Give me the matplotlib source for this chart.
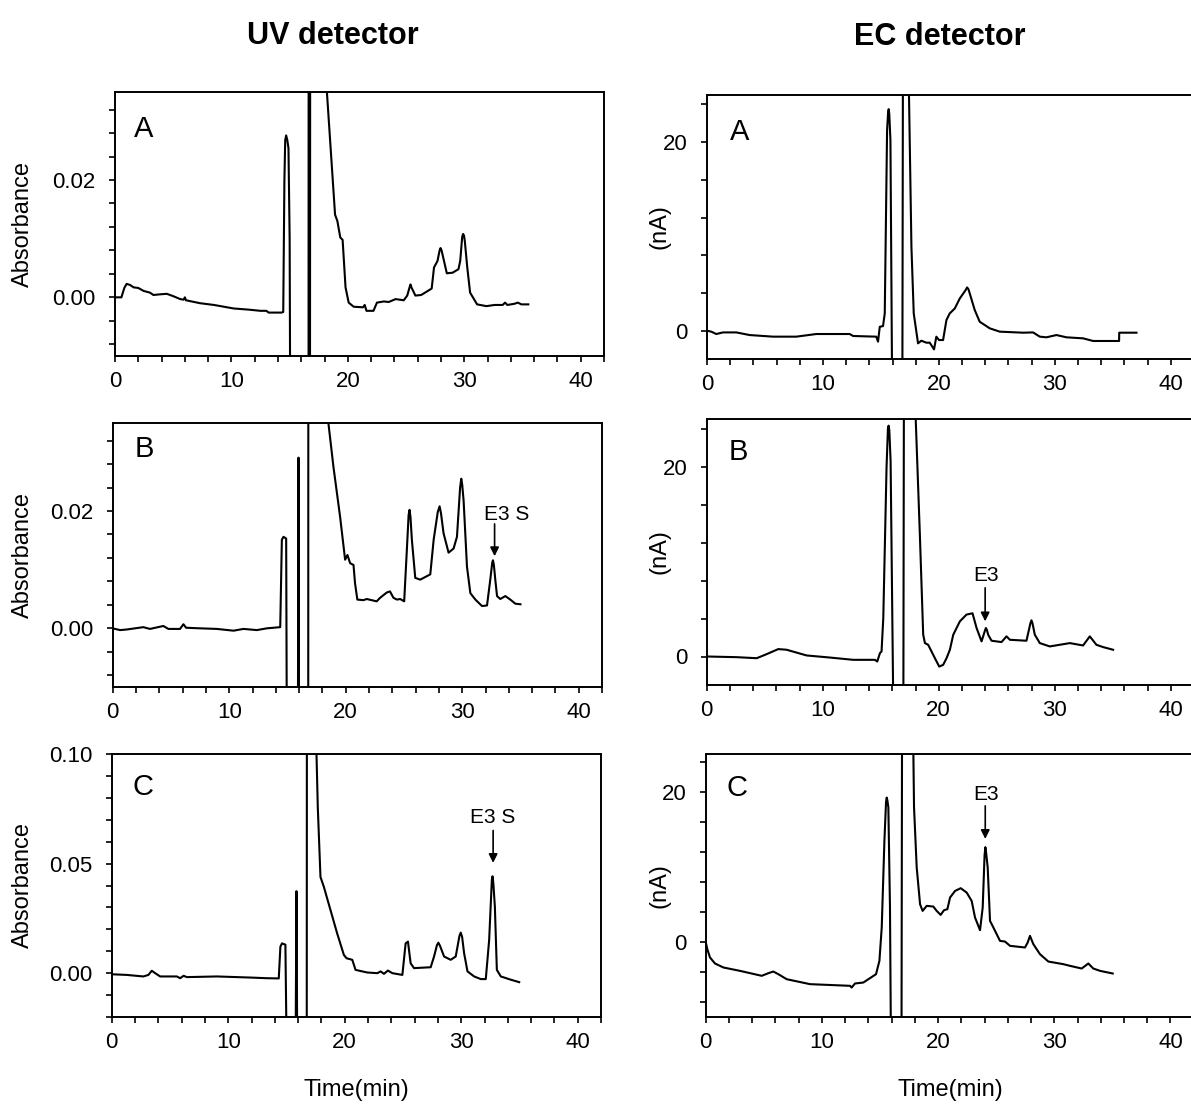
import matplotlib
matplotlib.use("Agg")
import matplotlib.pyplot as plt
from matplotlib.ticker import MultipleLocator, FixedLocator, FixedFormatter

plt.rcParams['font.family'] = ['Liberation Sans', 'DejaVu Sans']

# ---------------- data (time in min, signal) ----------------
uv_a_t = [0, 0.55, 0.8, 1.0, 1.3, 1.6, 2.0, 2.45, 3.0, 3.3, 3.8, 4.45, 5.0, 5.6, 5.9, 6.0, 6.1, 7.3,
          8.5, 10.2, 11.5, 12.5, 13.0, 13.2, 14.3, 14.45, 14.55, 14.62, 14.7, 14.8, 14.9, 15.0,
          15.1, 16.62, 16.65, 16.74, 16.8, 18.0, 18.2, 18.9, 19.1, 19.35, 19.55, 19.8, 20.07, 20.5,
          21.3, 21.45, 21.6, 22.2, 22.5, 23.1, 23.5, 24.1, 24.8, 25.1, 25.3, 25.38, 25.46, 25.8,
          26.3, 27.2, 27.4, 27.7, 27.88, 27.96, 28.05, 28.5, 29.0, 29.5, 29.65, 29.82, 29.9, 29.98,
          30.05, 30.25, 30.5, 31.1, 31.9, 32.6, 33.3, 33.5, 33.7, 34.3, 34.6, 34.9, 35.5]
uv_a_v = [0.0, 0.0, 0.0016, 0.0023, 0.0021, 0.0017, 0.0016, 0.0011, 0.0008, 0.0004, 0.0005, 0.0006,
          0.0002, -0.0003, -0.0004, 0.0000, -0.0005, -0.0010, -0.0013, -0.0019, -0.0021, -0.0023,
          -0.0023, -0.0026, -0.0026, -0.0025, 0.020, 0.0268, 0.0276, 0.0268, 0.0254, 0.010, -0.05,
          -0.05, 0.2, -0.05, 0.2, 0.2, 0.035, 0.0141, 0.0130, 0.0102, 0.0098, 0.0017, -0.0009,
          -0.0016, -0.0017, -0.0013, -0.0023, -0.0023, -0.0009, -0.0007, -0.0008, -0.0003, -0.0005,
          0.0003, 0.0017, 0.0022, 0.0017, 0.0003, 0.0004, 0.0015, 0.0051, 0.0062, 0.0080, 0.0084,
          0.0080, 0.0041, 0.0042, 0.0048, 0.0062, 0.0103, 0.0108, 0.0105, 0.0095, 0.0052, 0.0008,
          -0.0012, -0.0015, -0.0013, -0.0013, -0.0009, -0.0013, -0.0011, -0.0009, -0.0012, -0.0012]

uv_b_t = [0, 0.63, 1.2, 2.63, 3.2, 4.35, 4.78, 5.78, 6.07, 6.3, 7.5, 8.94, 10.37, 11.23, 12.38,
          13.23, 14.38, 14.52, 14.66, 14.89, 15.0, 15.86, 15.95, 16.03, 16.78, 16.81, 18.3, 18.52,
          18.95, 19.52, 19.95, 20.15, 20.38, 20.67, 20.8, 21.0, 21.53, 21.8, 22.66, 22.95, 23.52,
          23.8, 24.1, 24.4, 24.68, 25.02, 25.25, 25.4, 25.48, 25.56, 25.68, 25.97, 26.4, 27.26,
          27.55, 27.9, 28.06, 28.18, 28.4, 28.83, 29.26, 29.55, 29.82, 29.92, 30.0, 30.12, 30.41,
          30.7, 31.13, 31.7, 32.13, 32.41, 32.58, 32.64, 32.72, 32.84, 32.99, 33.27, 33.7, 34.13,
          34.56, 35.0]
uv_b_v = [0.0, -0.0003, -0.0002, 0.0002, -0.0001, 0.0004, -0.0001, -0.0001, 0.0007, 0.0001, 0.0,
          -0.0001, -0.0004, -0.0001, -0.0003, 0.0, 0.0002, 0.0151, 0.0156, 0.0153, -0.05, -0.05,
          0.0291, -0.05, -0.05, 0.2, 0.2, 0.0349, 0.0275, 0.0190, 0.0117, 0.0125, 0.0111, 0.0108,
          0.0077, 0.0049, 0.0048, 0.0050, 0.0046, 0.0052, 0.0061, 0.0063, 0.0052, 0.0049, 0.0050,
          0.0046, 0.0134, 0.0193, 0.0202, 0.0190, 0.0151, 0.0086, 0.0083, 0.0092, 0.0151, 0.0198,
          0.0208, 0.0196, 0.0162, 0.0129, 0.0136, 0.0156, 0.0240, 0.0255, 0.0245, 0.0218, 0.0105,
          0.0060, 0.0049, 0.0038, 0.0039, 0.0083, 0.0112, 0.0116, 0.0108, 0.0083, 0.0055, 0.0050,
          0.0055, 0.0049, 0.0042, 0.0041]

uv_c_t = [0, 1.29, 2.72, 3.15, 3.44, 3.73, 4.16, 5.59, 5.88, 6.17, 6.45, 9.03, 11.9, 13.33, 14.34,
          14.48, 14.62, 14.91, 15.05, 15.77, 15.86, 15.94, 16.74, 16.77, 17.5, 17.58, 17.69, 17.92,
          18.21, 18.78, 19.35, 19.93, 20.16, 20.65, 20.93, 21.94, 22.8, 23.08, 23.37, 23.71, 24.09,
          24.95, 25.23, 25.43, 25.66, 25.95, 27.38, 27.67, 27.92, 28.04, 28.18, 28.53, 29.1, 29.53,
          29.85, 29.96, 30.08, 30.25, 30.54, 31.11, 31.68, 32.11, 32.4, 32.63, 32.69, 32.76, 32.89,
          33.06, 33.4, 34.27, 34.98]
uv_c_v = [-0.0005, -0.0008, -0.0015, -0.0008, 0.0011, 0.0, -0.0015, -0.0015, -0.0023, -0.0012,
          -0.0018, -0.0015, -0.0020, -0.0023, -0.0024, 0.0121, 0.0136, 0.0130, -0.05, -0.05,
          0.0374, -0.05, -0.05, 0.3, 0.3, 0.0997, 0.0758, 0.0439, 0.0394, 0.0288, 0.0182, 0.0083,
          0.0068, 0.0061, 0.0015, 0.0003, 0.0, 0.0008, -0.0003, 0.0012, 0.0, -0.0008, 0.0136,
          0.0144, 0.0045, 0.0023, 0.0027, 0.0076, 0.0128, 0.0139, 0.0125, 0.0076, 0.0061, 0.0076,
          0.0170, 0.0185, 0.0165, 0.0091, 0.0008, -0.0015, -0.0027, -0.0027, 0.0152, 0.0425,
          0.0442, 0.0410, 0.0303, 0.0015, -0.0015, -0.0030, -0.0041]

ec_a_t = [0, 0.37, 0.8, 1.38, 2.53, 3.68, 5.69, 7.7, 9.43, 12.3, 12.6, 14.6, 14.75, 14.9, 15.18,
          15.33, 15.53, 15.62, 15.67, 15.72, 15.82, 15.96, 16.85, 16.9, 17.35, 17.42, 17.63, 17.83,
          18.2, 18.49, 18.92, 19.21, 19.58, 19.78, 20.01, 20.36, 20.65, 20.93, 21.37, 21.8, 22.3,
          22.43, 22.55, 22.66, 23.09, 23.52, 24.39, 25.25, 27.26, 28.12, 28.7, 29.27, 30.14, 31.0,
          32.44, 33.3, 35.54, 35.55, 37.04]
ec_a_v = [0, -0.1, -0.35, -0.18, -0.18, -0.46, -0.63, -0.63, -0.35, -0.35, -0.56, -0.63, -1.16,
          0.42, 0.49, 1.83, 21.2, 23.2, 23.5, 23.0, 20.2, -5, -5, 30, 30, 25, 8.9, 1.83, -1.34,
          -1.06, -1.27, -1.27, -1.98, -0.63, -0.99, -0.99, 1.13, 1.83, 2.36, 3.42, 4.3, 4.59, 4.4,
          3.95, 2.19, 0.95, 0.25, -0.1, -0.21, -0.18, -0.63, -0.7, -0.46, -0.7, -0.81, -1.09, -1.09,
          -0.21, -0.21]

ec_b_t = [0, 2.58, 4.31, 5.17, 6.17, 6.89, 8.61, 10.62, 12.63, 14.5, 14.7, 14.93, 15.07, 15.22,
          15.5, 15.62, 15.68, 15.74, 15.85, 16.08, 16.95, 17.0, 17.9, 18.0, 18.37, 18.66, 18.81,
          19.09, 19.67, 20.04, 20.38, 20.67, 20.96, 21.25, 21.82, 22.39, 22.91, 23.26, 23.69, 23.95,
          24.06, 24.15, 24.26, 24.55, 25.41, 25.84, 26.13, 27.56, 27.9, 27.99, 28.08, 28.28, 28.71,
          29.57, 31.3, 32.44, 33.02, 33.59, 34.17, 35.03]
ec_b_v = [0, -0.07, -0.18, 0.25, 0.78, 0.71, 0.11, -0.11, -0.35, -0.35, -0.53, 0.35, 0.53, 4.06,
          19.9, 24.0, 24.3, 23.8, 20.6, -5, -5, 30, 30, 25.5, 12.9, 2.29, 1.41, 1.23, -0.18, -1.06,
          -0.88, -0.18, 0.71, 2.29, 3.7, 4.41, 4.55, 3.0, 1.59, 2.6, 3.0, 2.8, 2.29, 1.66, 1.52,
          2.12, 1.76, 1.66, 3.5, 3.81, 3.5, 2.29, 1.41, 1.06, 1.41, 1.16, 2.12, 1.23, 0.99, 0.71]

ec_c_t = [0, 0.14, 0.37, 0.8, 1.52, 2.95, 4.82, 5.39, 5.82, 6.25, 6.97, 8.98, 12.42, 12.56, 12.85,
          13.57, 14.14, 14.66, 14.95, 15.15, 15.38, 15.52, 15.58, 15.64, 15.72, 15.86, 15.95, 16.85,
          16.9, 17.8, 17.87, 17.93, 18.16, 18.45, 18.67, 19.02, 19.59, 19.88, 20.22, 20.51, 20.8,
          21.03, 21.46, 21.95, 22.46, 22.89, 23.18, 23.61, 23.84, 24.0, 24.07, 24.14, 24.27, 24.47,
          24.76, 25.33, 25.76, 26.19, 27.48, 27.71, 27.91, 28.2, 28.77, 29.49, 30.78, 31.35, 32.36,
          32.93, 33.36, 33.94, 35.03]
ec_c_v = [0, -0.98, -2.08, -2.88, -3.41, -3.86, -4.52, -4.17, -3.95, -4.3, -4.97, -5.63, -5.85,
          -6.08, -5.54, -5.41, -4.83, -4.3, -2.53, 1.91, 13.4, 18.6, 19.2, 18.8, 17.9, 4.57, -15,
          -15, 30, 30, 25.5, 17.9, 9.9, 5.0, 4.12, 4.79, 4.7, 4.12, 3.59, 4.21, 4.35, 5.9, 6.78,
          7.14, 6.56, 5.45, 3.24, 1.55, 4.57, 11.5, 12.6, 11.8, 9.9, 2.79, 1.91, 0.13, 0.04, -0.53,
          -0.75, -0.09, 0.8, -0.31, -1.64, -2.62, -2.97, -3.19, -3.55, -2.88, -3.55, -3.86, -4.21]

x_ticks = [0, 10, 20, 30, 40]
x_tick_labels = ['0', '10', '20', '30', '40']
uv_ab_ticks = [0.0, 0.02]
uv_ab_labels = ['0.00', '0.02']
uv_c_ticks = [0.0, 0.05, 0.10]
uv_c_labels = ['0.00', '0.05', '0.10']
ec_ticks = [0, 20]
ec_labels = ['0', '20']
panel_letters = ['A', 'B', 'C']

# ---------------- figure ----------------
W, H = 1191, 1104
fig = plt.figure(figsize=(W / 100, H / 100), dpi=100)


def box(l, t, r, b):
    return [l / W, 1 - b / H, (r - l) / W, (b - t) / H]


def fx(x):
    return x / W


def fy(y):
    return 1 - y / H


LW = 1.5
TICKFS = 16


def style(ax, ylim, yt, ytl, yminor):
    ax.set_xlim(0, 42)
    ax.set_ylim(*ylim)
    ax.xaxis.set_major_locator(FixedLocator(x_ticks))
    ax.xaxis.set_major_formatter(FixedFormatter(x_tick_labels))
    ax.xaxis.set_minor_locator(MultipleLocator(2))
    ax.yaxis.set_major_locator(FixedLocator(yt))
    ax.yaxis.set_major_formatter(FixedFormatter(ytl))
    ax.yaxis.set_minor_locator(MultipleLocator(yminor))
    for s in ax.spines.values():
        s.set_linewidth(1.4)
    ax.tick_params(which='both', direction='out', length=4.5, width=1.2, labelsize=TICKFS)
    ax.tick_params(axis='x', which='both', pad=6.5)
    ax.tick_params(axis='y', which='both', pad=9.5)


panels = [
    (box(115, 92, 604, 356), uv_a_t, uv_a_v, (-0.01, 0.035), uv_ab_ticks, uv_ab_labels, 0.004),
    (box(112.7, 423, 602, 687), uv_b_t, uv_b_v, (-0.01, 0.035), uv_ab_ticks, uv_ab_labels, 0.004),
    (box(111.7, 754, 601, 1017), uv_c_t, uv_c_v, (-0.02, 0.10), uv_c_ticks, uv_c_labels, 0.01),
    (box(707, 95, 1194, 359), ec_a_t, ec_a_v, (-3, 25), ec_ticks, ec_labels, 4),
    (box(706.7, 419, 1194, 685), ec_b_t, ec_b_v, (-3, 25), ec_ticks, ec_labels, 4),
    (box(705.7, 754, 1193.7, 1017), ec_c_t, ec_c_v, (-10, 25), ec_ticks, ec_labels, 4),
]

axes = []
for rect, t, v, ylim, yt, ytl, ym in panels:
    ax = fig.add_axes(rect)
    ax.plot(t, v, color='black', lw=LW)
    style(ax, ylim, yt, ytl, ym)
    axes.append(ax)

# panel letters (pixel positions: center x, baseline y)
letter_pos = [(144, 137), (144, 457), (142.5, 795), (739.5, 140), (738, 460), (737.5, 796)]
for i, (px, py) in enumerate(letter_pos):
    fig.text(fx(px), fy(py), panel_letters[i % 3], fontsize=21, ha='center', va='baseline')

# column titles
fig.text(fx(333), fy(44), 'UV detector', fontsize=22, fontweight='bold', ha='center', va='baseline')
fig.text(fx(940), fy(45), 'EC detector', fontsize=22, fontweight='bold', ha='center', va='baseline')

# y labels
for ax in axes[:3]:
    pos = ax.get_position()
    fig.text(fx(23), (pos.y0 + pos.y1) / 2, 'Absorbance', fontsize=17, rotation=90,
             ha='center', va='center')
for ax in axes[3:]:
    pos = ax.get_position()
    fig.text(fx(660), (pos.y0 + pos.y1) / 2, '(nA)', fontsize=17, rotation=90,
             ha='center', va='center')

# x labels
fig.text(fx(356), fy(1090), 'Time(min)', fontsize=17, ha='center', va='center')
fig.text(fx(950), fy(1090), 'Time(min)', fontsize=17, ha='center', va='center')

# annotations: (axes index, label, text x, text baseline y, arrow x, tail y, head y)
annots = [
    (1, 'E3 S', 33.85, 0.0184, 32.78, 0.0178, 0.0123),
    (2, 'E3 S', 32.71, 0.0683, 32.74, 0.0651, 0.0503),
    (4, 'E3', 24.06, 7.94, 24.0, 7.23, 3.7),
    (5, 'E3', 24.1, 18.9, 24.06, 18.1, 13.7),
]
for idx, lab, tx, ty, axx, y0, y1 in annots:
    ax = axes[idx]
    ax.text(tx, ty, lab, fontsize=15, ha='center', va='baseline')
    ax.annotate('', xy=(axx, y1), xytext=(axx, y0),
                arrowprops=dict(arrowstyle='-|>', color='black', lw=1.2,
                                mutation_scale=13, shrinkA=0, shrinkB=0))

fig.savefig('out.png', dpi=100)
